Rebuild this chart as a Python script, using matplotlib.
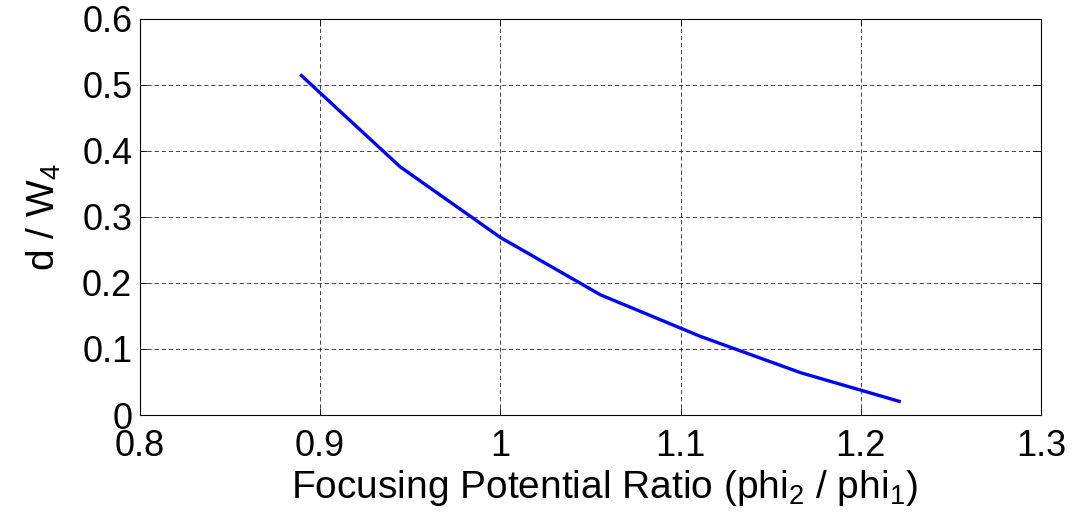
import matplotlib
matplotlib.use("Agg")
import matplotlib.pyplot as plt

# Focusing potential ratio vs normalized displacement
ratio = [0.8889, 0.9444, 1.0000, 1.0556, 1.1111, 1.1667, 1.2222]
d_over_w4 = [0.516, 0.376, 0.269, 0.182, 0.119, 0.064, 0.020]

x_ticks = [0.8, 0.9, 1.0, 1.1, 1.2, 1.3]
x_tick_labels = ["0.8", "0.9", "1", "1.1", "1.2", "1.3"]
y_ticks = [0, 0.1, 0.2, 0.3, 0.4, 0.5, 0.6]
y_tick_labels = ["0", "0.1", "0.2", "0.3", "0.4", "0.5", "0.6"]

plt.rcParams["font.family"] = ["Liberation Sans", "DejaVu Sans"]
plt.rcParams["mathtext.fontset"] = "custom"
plt.rcParams["mathtext.rm"] = "Liberation Sans"
plt.rcParams["mathtext.it"] = "Liberation Sans"
plt.rcParams["mathtext.default"] = "regular"

fig = plt.figure(figsize=(10.75, 5.23), dpi=100)
ax = fig.add_axes([0.1302, 0.2065, 0.8382, 0.7572])

ax.plot(ratio, d_over_w4, color="#0000ff", linewidth=2.4, solid_capstyle="butt")

ax.set_xlim(0.8, 1.3)
ax.set_ylim(0, 0.6)
ax.set_xticks(x_ticks)
ax.set_xticklabels(x_tick_labels)
ax.set_yticks(y_ticks)
ax.set_yticklabels(y_tick_labels)

ax.grid(True, color="black", linestyle=(0, (5, 3.5)), linewidth=0.6, alpha=0.85)
ax.tick_params(direction="in", length=5, width=0.6, labelsize=26,
               top=True, right=True)
ax.tick_params(axis="x", pad=10)
ax.tick_params(axis="y", pad=5.5)
for side in ax.spines.values():
    side.set_linewidth(0.8)

ax.set_xlabel(r"Focusing Potential Ratio (phi$_2$ / phi$_1$)", fontsize=28, labelpad=0)
ax.xaxis.set_label_coords(0.515, -0.135)
ax.set_ylabel(r"d / W$_4$", fontsize=28, labelpad=14)

fig.savefig("out.png", dpi=100)
